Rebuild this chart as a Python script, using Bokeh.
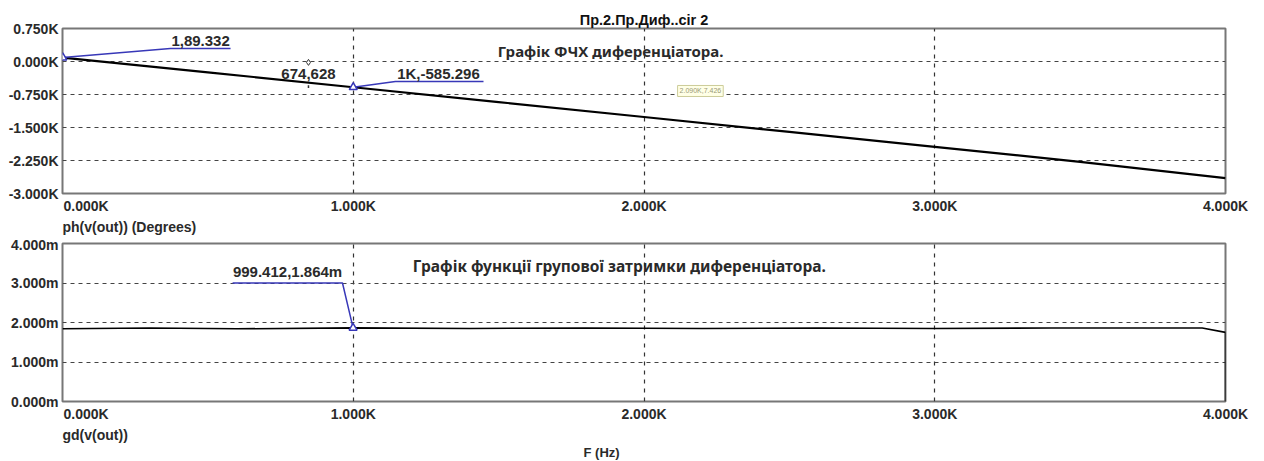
from bokeh.plotting import figure
from bokeh.models import Range1d, FixedTicker, Label, Title
from bokeh.layouts import column
from bokeh.embed import file_html
from bokeh.resources import INLINE

# ---- data ----
freq_ph = [0, 500, 1000, 1500, 2000, 2500, 3000, 3500, 4000]
phase_deg = [89.3, -246, -585.3, -922, -1262, -1600, -1940, -2280, -2650]

freq_gd = [0, 300, 600, 1000, 1400, 1800, 2200, 2600, 3000, 3400, 3700, 3920, 4000, 4000]
gd_ms = [1.84, 1.86, 1.84, 1.864, 1.85, 1.86, 1.85, 1.86, 1.85, 1.86, 1.86, 1.86, 1.75, 0.0]

x_grid_ticks = [1000, 2000, 3000]
x_ticks = [81, 1000, 2000, 3000, 4000]          # 81: left-aligned "0.000K" label position
x_tick_labels = ["0.000K", "1.000K", "2.000K", "3.000K", "4.000K"]
ph_ticks = [750, 0, -750, -1500, -2250, -3000]
ph_tick_labels = ["0.750K", "0.000K", "-0.750K", "-1.500K", "-2.250K", "-3.000K"]
gd_ticks = [0, 1, 2, 3, 4]
gd_tick_labels = ["0.000m", "1.000m", "2.000m", "3.000m", "4.000m"]

ph_markers_x = [1, 1000]
ph_markers_y = [89.332, -585.296]
gd_marker_x = [999.412]
gd_marker_y = [1.864]

FONT = "Liberation Sans"
TXT = "#2a2a2a"
BLUE = "#3838b8"
W = 1264


def style(p, yticks, ylabels):
    p.xaxis.ticker = FixedTicker(ticks=x_ticks)
    p.xaxis.major_label_overrides = dict(zip(x_ticks, x_tick_labels))
    p.xgrid.ticker = FixedTicker(ticks=x_grid_ticks)
    p.yaxis.ticker = FixedTicker(ticks=yticks)
    p.yaxis.major_label_overrides = dict(zip(yticks, ylabels))
    for ax in (p.xaxis[0], p.yaxis[0]):
        ax.axis_line_color = None
        ax.major_tick_line_color = None
        ax.minor_tick_line_color = None
        ax.major_tick_out = 0
        ax.major_tick_in = 0
        ax.major_label_text_font = FONT
        ax.major_label_text_font_style = "bold"
        ax.major_label_text_font_size = "14px"
        ax.major_label_text_color = TXT
    p.yaxis.major_label_standoff = 4
    p.xaxis.major_label_standoff = 4
    p.xgrid.grid_line_color = "#333333"
    p.xgrid.grid_line_dash = "4 5"
    p.xgrid.grid_line_width = 1.2
    p.ygrid.grid_line_color = "#444444"
    p.ygrid.grid_line_dash = "4 4"
    p.ygrid.grid_line_width = 1.2
    p.outline_line_color = "#777777"
    p.outline_line_width = 2
    p.background_fill_color = "white"
    p.border_fill_color = "white"
    p.min_border_left = 62
    p.min_border_right = W - 1225


def lab(p, x, y, text, size="15px", align="center", font=FONT, style="bold", color=TXT, **kw):
    p.add_layout(Label(x=x, y=y, text=text, text_font=font, text_font_style=style,
                       text_font_size=size, text_align=align, text_baseline="middle",
                       text_color=color, **kw))


def below_title(p, text, offset=0, size="14px", standoff=0):
    p.add_layout(Title(text=text, align="left", offset=offset, standoff=standoff,
                       text_font=FONT, text_font_style="bold", text_font_size=size,
                       text_color=TXT), "below")


# ---------------- top: phase ----------------
p1 = figure(width=W, height=236, output_backend="svg", toolbar_location=None,
            x_range=Range1d(0, 4000), y_range=Range1d(-3000, 750),
            title="Пр.2.Пр.Диф..cir 2")
style(p1, ph_ticks, ph_tick_labels)
p1.title.align = "center"
p1.title.text_font = FONT
p1.title.text_font_style = "bold"
p1.title.text_font_size = "14.5px"
p1.title.text_color = "#111111"
p1.title.standoff = 2
p1.min_border_top = 28
p1.min_border_bottom = 43
below_title(p1, "ph(v(out)) (Degrees)")

p1.line(freq_ph, phase_deg, line_color="black", line_width=2.2)

# marker leaders
p1.line([1, 371, 578], [89.332, 295, 295], line_color=BLUE, line_width=1.5)
p1.line([1000, 1145, 1448], [-585.296, -454, -454], line_color=BLUE, line_width=1.5)
p1.scatter(ph_markers_x, ph_markers_y, marker="triangle", size=8, fill_color="white",
           line_color=BLUE, line_width=1.5)
p1.scatter([846], [-20], marker="diamond", size=6, fill_color="white", line_color="#333", line_width=1)
p1.segment([846], [-540], [846], [-600], line_color="#333", line_width=1.5)

lab(p1, 475, 455, "1,89.332")
lab(p1, 1293, -273, "1K,-585.296")
lab(p1, 846, -273, "674,628")
lab(p1, 2194, -670, "2.090K,7.426", size="7px", style="normal", color="#999977",
    background_fill_color="#ffffe6", border_line_color="#cccc99", padding=2)
lab(p1, 1885, 250, "Графік ФЧХ диференціатора.", size="15px", font="Noto Sans")

# ---------------- bottom: group delay ----------------
p2 = figure(width=W, height=225, output_backend="svg", toolbar_location=None,
            x_range=Range1d(0, 4000), y_range=Range1d(0, 4))
style(p2, gd_ticks, gd_tick_labels)
p2.min_border_top = 7
p2.min_border_bottom = 60
below_title(p2, "gd(v(out))")
below_title(p2, "F (Hz)", offset=521, size="13px")

p2.line(freq_gd, gd_ms, line_color="black", line_width=1.6)
p2.line([585, 963, 999.412], [3.0, 3.0, 1.864], line_color=BLUE, line_width=1.5)
p2.scatter(gd_marker_x, gd_marker_y, marker="triangle", size=8, fill_color="white",
           line_color=BLUE, line_width=1.5)

lab(p2, 774, 3.29, "999.412,1.864m")
lab(p2, 1915, 3.44, "Графік функції групової затримки диференціатора.", size="15.5px", font="Noto Sans")

layout = column(p1, p2, spacing=0)
open("out.html", "w").write(file_html(layout, INLINE))
